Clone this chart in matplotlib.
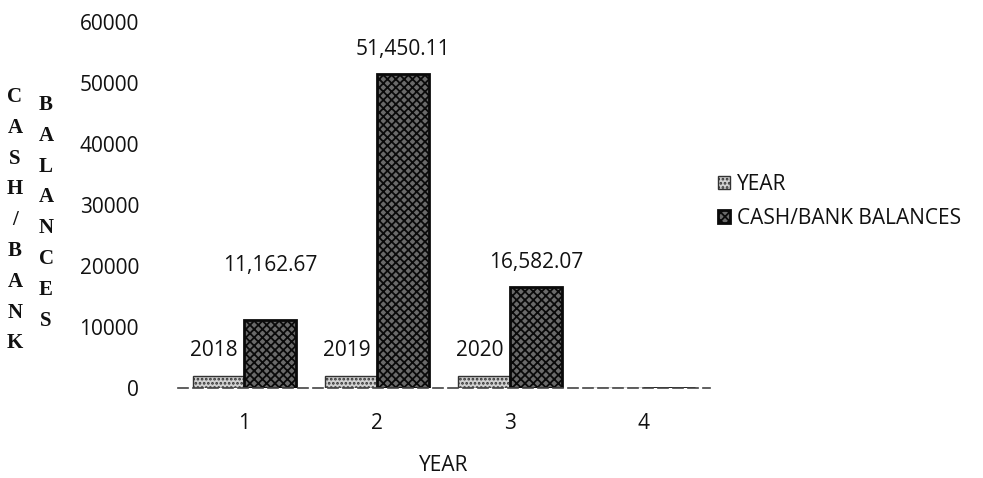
import matplotlib
matplotlib.use("Agg")
from matplotlib import pyplot as plt
import numpy as np

categories = [1, 2, 3, 4]
year_values = [2018, 2019, 2020, 0]
cash_values = [11162.67, 51450.11, 16582.07, 0]
year_labels = ["2018", "2019", "2020", ""]
cash_labels = ["11,162.67", "51,450.11", "16,582.07", ""]
y_ticks = [0, 10000, 20000, 30000, 40000, 50000, 60000]

plt.rcParams['font.family'] = ['Open Sans', 'DejaVu Sans']
plt.rcParams['hatch.linewidth'] = 1.3

fig = plt.figure(figsize=(9.83, 4.78), dpi=100)
ax = fig.add_axes([0.181, 0.188, 0.541, 0.766])

x = np.array(categories, dtype=float)
w = 0.39
ink = '#111111'

bars_year = ax.bar(x - w / 2, year_values, w, color='#d0d0d0', edgecolor='#333333',
                   hatch='....', linewidth=1.0, label='YEAR')
bars_cash = ax.bar(x + w / 2, cash_values, w, color='#6a6a6a', edgecolor='#0a0a0a',
                   hatch='xxxx', linewidth=2.0, label='CASH/BANK BALANCES')

# value labels above each bar
for b, s in zip(bars_year, year_labels):
    if s:
        ax.annotate(s, (b.get_x() + b.get_width() / 2, b.get_height()),
                    xytext=(-3, 11), textcoords='offset points',
                    ha='center', va='bottom', fontsize=15, color=ink)
offsets = [32, 10, 10, 10]
for b, s, off in zip(bars_cash, cash_labels, offsets):
    if s:
        ax.annotate(s, (b.get_x() + b.get_width() / 2, b.get_height()),
                    xytext=(0, off), textcoords='offset points',
                    ha='center', va='bottom', fontsize=15, color=ink)

ax.set_xlim(0.5, 4.5)
ax.set_ylim(0, 60000)
ax.set_xticks(categories)
ax.set_yticks(y_ticks)
ax.set_yticklabels([str(t) for t in y_ticks])
ax.tick_params(axis='both', length=0, labelsize=15, colors=ink)
ax.tick_params(axis='y', pad=28)
ax.tick_params(axis='x', pad=18)

for side in ['top', 'right', 'left']:
    ax.spines[side].set_visible(False)
ax.spines['bottom'].set_linestyle((0, (6, 3)))
ax.spines['bottom'].set_color('#444444')
ax.spines['bottom'].set_linewidth(1.2)

ax.set_xlabel('YEAR', fontsize=15, color=ink, labelpad=15)

# stacked vertical axis title in two columns
fig.text(15 / 983, 1 - 87 / 478, "\n".join("CASH/BANK"), family='Liberation Serif',
         fontweight='bold', fontsize=15, ha='center', va='top', linespacing=1.72,
         color=ink)
fig.text(46 / 983, 1 - 95 / 478, "\n".join("BALANCES"), family='Liberation Serif',
         fontweight='bold', fontsize=15, ha='center', va='top', linespacing=1.72,
         color=ink)

ax.legend(loc='center left', bbox_to_anchor=(0.98, 0.51), frameon=False,
          fontsize=15, handlelength=0.6, handleheight=0.6, handletextpad=0.3,
          labelspacing=0.6, labelcolor=ink)

fig.savefig('out.png', dpi=100)
